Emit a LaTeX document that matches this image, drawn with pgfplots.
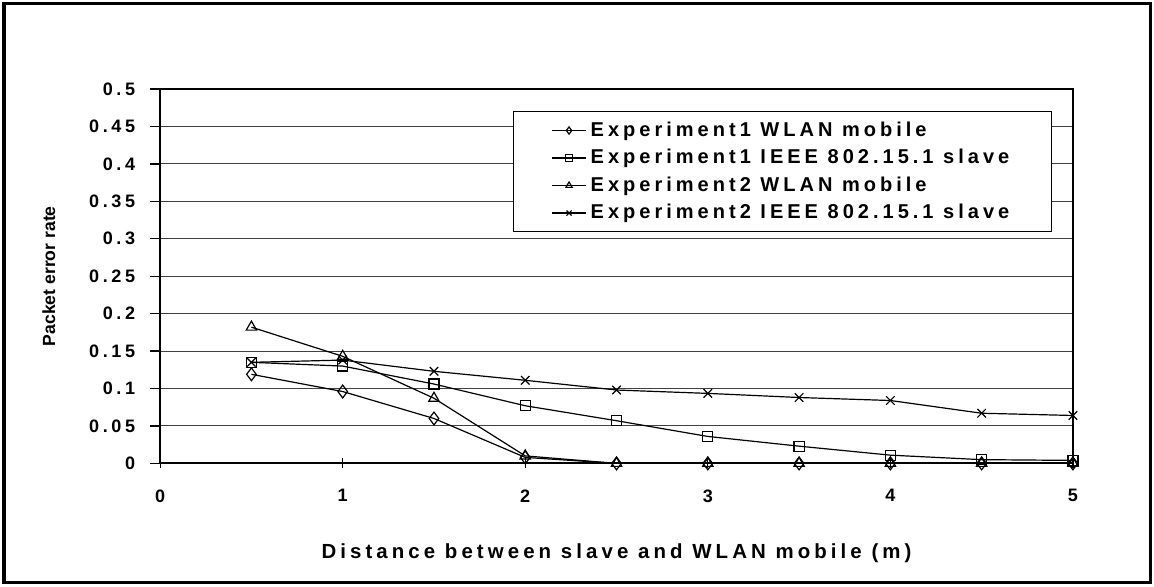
\documentclass[border=0pt]{standalone}
\usepackage{fontspec}
\setmainfont{Liberation Sans}
\newfontfamily\spaced[LetterSpace=20]{Liberation Sans}
\usepackage{pgfplots}
\pgfplotsset{compat=1.18}

\pgfplotstableread{
x    e1w    e1s    e2w    e2s
0.5  0.119  0.135  0.182  0.135
1    0.096  0.130  0.143  0.138
1.5  0.060  0.106  0.087  0.123
2    0.008  0.077  0.010  0.111
2.5  0      0.057  0      0.098
3    0      0.036  0      0.0935
3.5  0      0.023  0      0.088
4    0      0.011  0      0.084
4.5  0      0.005  0      0.067
5    0      0.004  0      0.064
}\pertable

\begin{document}
\begin{tikzpicture}
\begin{axis}[
    name=ax,
    scale only axis,
    width=456pt, height=187pt,
    xmin=0, xmax=5, ymin=0, ymax=0.5,
    xtick={0,1,...,5},
    ytick={0,0.05,...,0.5},
    /pgf/number format/assume math mode=true,
    tick label style={font=\spaced\bfseries\fontsize{9}{11}\selectfont},
    xticklabel style={yshift=-7pt},
    yticklabel style={xshift=-4pt, /pgf/number format/fixed, /pgf/number format/precision=2},
    ymajorgrids,
    grid style={black!75, line width=0.5pt},
    axis line style={black, line width=0.9pt},
    tick style={black, line width=0.6pt},
    major tick length=5pt,
    ytick pos=left, xtick pos=bottom,
    ytick align=outside, xtick align=center,
    xlabel={\spaced\bfseries Distance between slave and WLAN mobile (m)},
    ylabel={\bfseries Packet error rate},
    xlabel style={font=\fontsize{10.2}{12}\selectfont, yshift=-14pt},
    ylabel style={font=\fontsize{8.8}{10}\selectfont, yshift=10pt},
    clip=false,
    legend style={
        at={(0.977,0.941)}, anchor=north east,
        draw=black, line width=0.6pt,
        font=\spaced\bfseries\fontsize{10}{12}\selectfont,
        cells={anchor=west},
        row sep=1pt,
        inner xsep=19pt, inner ysep=3pt,
        /tikz/every even column/.append style={column sep=3pt},
    },
    legend image post style={mark size=1.8pt},
]
\addplot[black, line width=0.6pt, mark=diamond, mark size=3.2pt, mark options={fill=white, line width=0.6pt}] table[x=x, y=e1w] {\pertable};
\addlegendentry{Experiment1 WLAN mobile}
\addplot[black, line width=0.6pt, mark=square, mark size=2.5pt, mark options={fill=white, line width=0.6pt}] table[x=x, y=e1s] {\pertable};
\addlegendentry{Experiment1 IEEE 802.15.1 slave}
\addplot[black, line width=0.6pt, mark=triangle, mark size=3pt, mark options={fill=white, line width=0.6pt}] table[x=x, y=e2w] {\pertable};
\addlegendentry{Experiment2 WLAN mobile}
\addplot[black, line width=0.6pt, mark=x, mark size=3pt, mark options={line width=0.6pt}] table[x=x, y=e2s] {\pertable};
\addlegendentry{Experiment2 IEEE 802.15.1 slave}
\end{axis}
\path ([shift={(-80pt,-61.5pt)}]ax.south west) rectangle ([shift={(40.5pt,44.5pt)}]ax.north east);
\draw[line width=1.5pt] ([shift={(-78pt,-59.5pt)}]ax.south west) rectangle ([shift={(38.5pt,42.5pt)}]ax.north east);
\end{tikzpicture}
\end{document}
